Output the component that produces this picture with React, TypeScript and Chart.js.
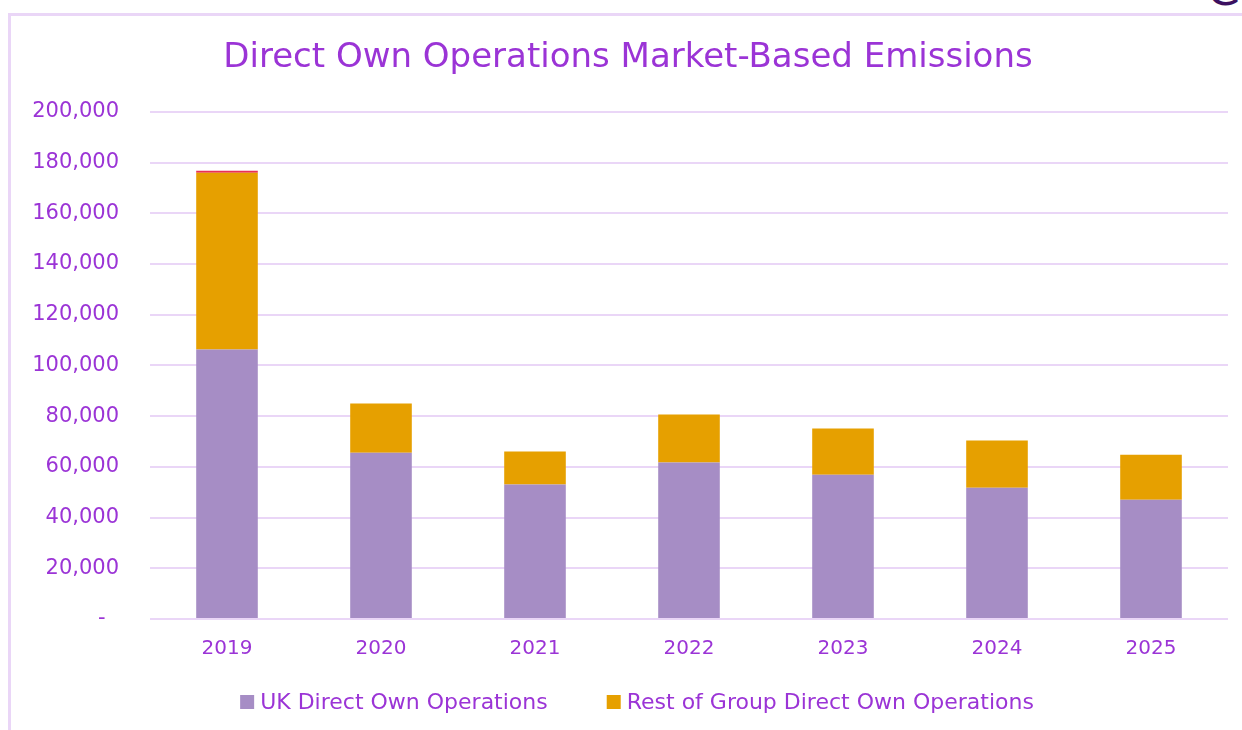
import React, { useEffect, useRef } from "react";
import { Chart, registerables } from "chart.js";

Chart.register(...registerables);

const categories = ["2019", "2020", "2021", "2022", "2023", "2024", "2025"];
const ukDirect = [106300, 65600, 53000, 61700, 56900, 51800, 47000];
const restOfGroup = [69700, 19400, 13000, 18900, 18200, 18600, 17800];
const otherTop = [800, 0, 0, 0, 0, 0, 0];
const yTicks = [0, 20000, 40000, 60000, 80000, 100000, 120000, 140000, 160000, 180000, 200000];
const legendSeries = ["UK Direct Own Operations", "Rest of Group Direct Own Operations"];

const TEXT = "#9B34D6";
const GRID = "#EAD6F7";
const FONT = "'DejaVu Sans', sans-serif";

const legendPlugin = {
  id: "customLegend",
  afterDraw(chart: any) {
    const ctx = chart.ctx as CanvasRenderingContext2D;
    ctx.save();
    ctx.font = `22px ${FONT}`;
    const box = 14, gapBoxText = 6, gapItems = 59;
    const items = chart.data.datasets.filter((d: any) => legendSeries.includes(d.label));
    const widths = items.map((d: any) => box + gapBoxText + ctx.measureText(d.label).width);
    const total = widths.reduce((a: number, b: number) => a + b, 0) + gapItems * (items.length - 1);
    let x = 637 - total / 2;
    const cy = 702;
    ctx.textBaseline = "middle";
    ctx.textAlign = "left";
    items.forEach((d: any, i: number) => {
      ctx.fillStyle = d.backgroundColor;
      ctx.fillRect(x, cy - box / 2, box, box);
      ctx.fillStyle = TEXT;
      ctx.fillText(d.label, x + box + gapBoxText, cy + 1);
      x += widths[i] + gapItems;
    });
    ctx.restore();
  },
};

export default function App() {
  const ref = useRef<HTMLCanvasElement>(null);
  useEffect(() => {
    document.body.style.margin = "0";
    document.body.style.overflow = "hidden";
    const chart = new Chart(ref.current!, {
      type: "bar",
      data: {
        labels: categories,
        datasets: [
          { label: legendSeries[0], data: ukDirect, backgroundColor: "#A68DC5", barPercentage: 0.4, categoryPercentage: 1 },
          { label: legendSeries[1], data: restOfGroup, backgroundColor: "#E6A000", barPercentage: 0.4, categoryPercentage: 1 },
          { label: "Other", data: otherTop, backgroundColor: "#E8305A", barPercentage: 0.4, categoryPercentage: 1 },
        ],
      },
      plugins: [legendPlugin],
      options: {
        animation: false,
        responsive: false,
        layout: { padding: { left: 28, right: 14, top: 38, bottom: 59 } },
        plugins: {
          title: {
            display: true,
            text: "Direct Own Operations Market-Based Emissions",
            color: TEXT,
            font: { family: FONT, size: 34, weight: "normal" },
            padding: { top: 0, bottom: 33 },
          },
          legend: { display: false },
          tooltip: { enabled: false },
        },
        scales: {
          x: {
            stacked: true,
            grid: { display: false },
            border: { display: false },
            ticks: { color: TEXT, font: { family: FONT, size: 20 }, padding: 10 },
          },
          y: {
            stacked: true,
            min: 0,
            max: 200000,
            afterFit: (s: any) => { s.width = 122; },
            afterBuildTicks: (s: any) => { s.ticks = yTicks.map((v) => ({ value: v })); },
            grid: { color: GRID, lineWidth: 2, drawTicks: false },
            border: { display: false },
            ticks: {
              color: TEXT,
              font: { family: FONT, size: 21 },
              padding: 31,
              callback: (v: any) => (Number(v) === 0 ? "-  " : Number(v).toLocaleString("en-US")),
            },
          },
        },
      },
    });
    return () => chart.destroy();
  }, []);

  return (
    <div style={{ position: "relative", width: 1242, height: 730, overflow: "hidden", background: "#fff" }}>
      <div style={{ position: "absolute", left: 8, top: 13, width: 1300, height: 800, border: `3px solid ${GRID}`, boxSizing: "border-box" }} />
      <span style={{ position: "absolute", left: 1207, top: -30, fontFamily: FONT, fontSize: 44, color: "#3B1060", lineHeight: "40px" }}>G</span>
      <canvas ref={ref} width={1242} height={730} style={{ position: "absolute", left: 0, top: 0 }} />
    </div>
  );
}
